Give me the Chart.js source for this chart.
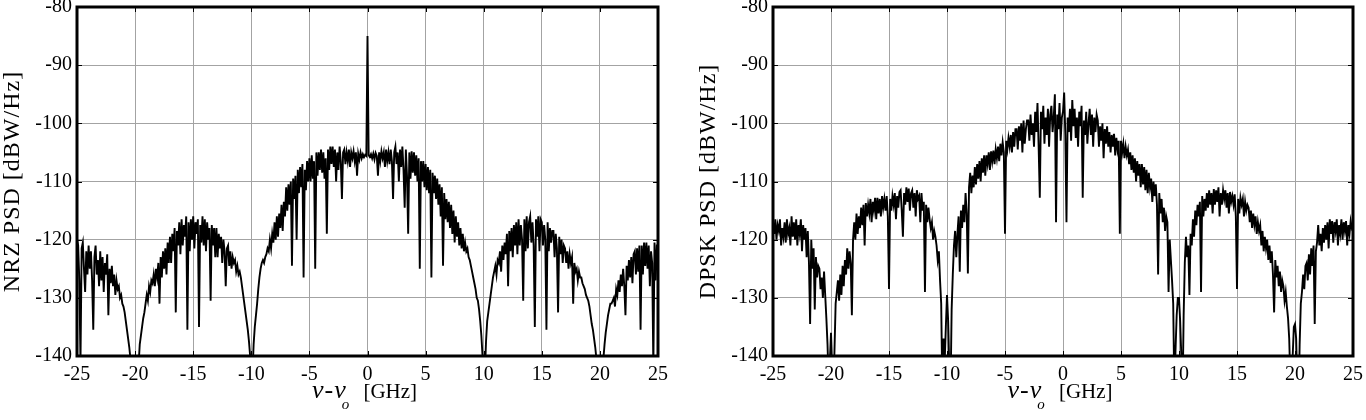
<!DOCTYPE html>
<html>
<head>
<meta charset="utf-8">
<script src="https://cdn.jsdelivr.net/npm/chart.js@4.4.1/dist/chart.umd.min.js"></script>
<style>
  html, body { margin: 0; padding: 0; background: #fff; }
  #wrap { position: relative; width: 1366px; height: 420px; }
  canvas { position: absolute; top: 0; }
</style>
</head>
<body>
<div id="wrap">
  <canvas id="nrz" width="683" height="420" style="left:0"></canvas>
  <canvas id="dpsk" width="683" height="420" style="left:683px"></canvas>
</div>
<script>
// sampling grid of both spectra (GHz offset from the carrier)
const freqStartGHz = -25;
const freqStepGHz = 0.1;

const xTicks = [-25, -20, -15, -10, -5, 0, 5, 10, 15, 20, 25];
const yTicks = [-140, -130, -120, -110, -100, -90, -80];

// PSD in dBW/Hz, one row per GHz (values below -140 fall outside the plot)
const nrzPsd = [
  -120, -121, -127, -141, -121.5, -120.5, -125, -129, -122, -126,
  -121, -125, -122, -127, -135.5, -123, -121, -126, -123.5, -128,
  -122, -127, -123, -129, -124, -126, -122.5, -133, -125, -127.5,
  -124.5, -128, -126, -129.5, -127, -128.5, -128, -130, -129.5, -131,
  -131.5, -132.5, -134, -135.5, -137, -138.5, -140.5, -143, -146, -150,
  -160, -152, -146, -141.5, -138, -136.5, -135, -133.5, -132.5, -131,
  -129.5, -130.5, -128, -129, -127, -127.5, -126, -128, -125, -126.5,
  -124, -131, -123, -126.5, -122, -125, -121.5, -126, -120.5, -124,
  -119.5, -124, -119, -122, -118, -132.5, -118.5, -121, -117, -122.5,
  -116.5, -121, -117.5, -119.5, -116, -135.5, -117, -122, -116.5, -120,
  -116, -121.5, -117, -119, -116.5, -135, -117.5, -120.5, -116, -121,
  -116.5, -122, -117, -120, -118, -130.5, -117.5, -121, -118, -123,
  -118, -123, -119, -121.5, -119.5, -124, -120, -122, -128, -121.5,
  -121, -124.5, -122, -125, -123, -124, -123.5, -125.5, -124.5, -126,
  -125.5, -126.5, -128, -129.5, -131, -132.5, -134, -135.5, -137.5, -140,
  -152, -143, -138, -135, -133, -131, -128.5, -126.5, -125, -124,
  -123.5, -124, -123, -122.5, -121.5, -122, -120, -121.5, -119, -120.5,
  -117, -120, -116, -119.5, -115.5, -118, -114, -118.5, -113.5, -116,
  -111, -115, -110.5, -114, -110, -124.5, -109.5, -113, -109, -120,
  -108, -112, -107.5, -111, -107, -126.5, -108, -111.5, -106.5, -110,
  -106, -110, -105.5, -109.5, -106.5, -125, -105, -109, -105, -108,
  -104.5, -108.5, -105, -109.5, -106, -119, -104.5, -108, -104, -107,
  -104, -107.5, -104.5, -110, -105, -108, -104, -106.5, -113, -105,
  -104.5, -107, -105, -106.5, -104.5, -107.5, -105, -106, -104.8, -106.5,
  -105, -109, -105.2, -106.2, -105, -106, -105.3, -105.8, -105.4, -105.6,
  -85, -105.5, -105.8, -105.3, -106, -105.2, -106.2, -105.1, -105.6, -109,
  -105, -106.5, -104.8, -106, -105, -107.5, -104.5, -106.5, -105, -107,
  -104.5, -106.5, -113, -105, -104, -107, -105, -110, -104.5, -107.5,
  -104, -108, -114.5, -104.5, -109, -119, -105, -109.5, -104.8, -108.5,
  -105, -109, -105.5, -110, -106, -125, -106.5, -110, -106.5, -111,
  -107, -111.5, -107.5, -112, -108, -126.5, -108.5, -112, -109, -113,
  -109.5, -114, -110.5, -116, -111, -124.5, -112, -116.5, -113, -117,
  -113.5, -118, -114, -119, -115, -120.5, -116, -119.5, -117, -121,
  -118, -121.5, -119, -122, -120.5, -122, -121.5, -123, -123.5, -124.5,
  -125.5, -126.5, -127.5, -128.5, -130, -130.5, -132, -134, -136.5, -140,
  -155, -143, -137.5, -134, -132.5, -131, -129.5, -128, -126.5, -125.5,
  -124.5, -126, -123.5, -124, -122, -125.5, -121, -123.5, -120.5, -122.5,
  -119, -128, -118.5, -122, -118, -123, -117.5, -121, -117, -122.5,
  -116.5, -121, -117.5, -120, -130.5, -116.5, -122, -116, -121.5, -117,
  -116, -120.5, -117, -121, -135, -116.5, -119.5, -116, -122, -116.5,
  -117, -121, -117.5, -120, -135.5, -117, -122, -118, -120.5, -118.5,
  -118.5, -123, -119, -121.5, -132.5, -119.5, -122.5, -120, -124, -121,
  -121.5, -124, -122, -125, -122.5, -124, -123, -131, -124, -125.5,
  -125, -127, -125.5, -126.5, -126.5, -127.5, -128, -128.5, -129.5, -130,
  -130.5, -131.5, -133, -134.5, -135.5, -137, -138.5, -140.5, -143, -147,
  -158, -150, -144, -140.5, -138, -136, -134.5, -133, -132, -131,
  -131, -130.5, -130, -131.5, -128.5, -129.5, -127, -129, -126, -128,
  -125, -128, -133, -124.5, -127, -123.5, -126.5, -123, -127.5, -122.5,
  -122, -126, -121.5, -125.5, -121, -135.5, -121, -126, -120.5, -124.5,
  -120.5, -125, -121, -128, -122, -124, -142, -120.5, -127, -121,
  -121
];

const dpskPsd = [
  -117, -119, -116.5, -120, -117.5, -118.5, -116.5, -121, -118, -119.5,
  -117, -120.5, -116.5, -119, -118, -121, -116, -119.5, -117, -120,
  -116.5, -121, -117.5, -119, -116.5, -122, -117.5, -120, -118, -123,
  -118.5, -124, -134.5, -120, -125, -121.5, -132, -123, -126.5, -124.5,
  -125, -128.5, -126.5, -130, -125.5, -129.5, -133.5, -138, -145, -141,
  -136, -142, -148, -139, -131, -129, -127, -130.5, -126, -129.5,
  -124.5, -128, -123.5, -126, -121.5, -125, -122, -124, -133, -120,
  -117, -120, -115.5, -119, -116, -118, -114.5, -117.5, -114, -121,
  -113.7, -116, -114, -115.5, -113, -117, -113.5, -115, -112.8, -116.5,
  -112.8, -115.5, -113, -116, -112.5, -114.5, -113, -115, -112.5, -116,
  -128.5, -113, -115, -112.5, -114, -112, -116.5, -112.5, -114.5, -111.8,
  -111.5, -115, -119.5, -112, -114, -111, -113.5, -111.2, -115, -112,
  -111.5, -114.5, -112, -116, -111.5, -113, -112.5, -117, -112, -115,
  -113.5, -129, -114, -117, -114.5, -116.5, -118, -117, -120, -118.5,
  -119.5, -121, -123.5, -122, -127, -131, -146, -137, -141, -135,
  -129.5, -134, -142, -147, -132, -126, -121, -118.5, -123, -119,
  -116, -125.5, -115, -118, -114, -117, -112, -115.5, -125.8, -111,
  -108.5, -112, -109, -111, -107.5, -110.5, -107, -109.5, -106.5, -110,
  -106, -108.5, -105.5, -109, -105.5, -107, -105, -108, -104.8, -106.5,
  -104.7, -107, -104.5, -106, -104, -106.5, -103.5, -105.5, -103.3, -105,
  -119, -103, -104.5, -102.5, -104, -102, -105, -101.5, -104, -101,
  -101, -104.5, -100.5, -103, -100, -105, -99.5, -103.5, -101, -99.5,
  -99.5, -103, -98.5, -102, -100, -104, -98, -101.5, -96.5, -104,
  -112.8, -98, -101, -97, -103.5, -99, -102, -97.5, -104, -98.5,
  -97, -101.5, -99, -95, -117, -98.5, -101, -96.5, -103, -99,
  -98, -94.7, -102, -117, -99, -101.5, -97.5, -103, -96, -100.5,
  -97.5, -102.5, -99, -104, -98, -100.5, -97, -112.8, -99.5, -102,
  -98, -103.5, -100, -97.5, -102, -98.5, -104, -99, -101.5, -98.5,
  -99.5, -104, -100.5, -103, -100, -106, -101, -103.5, -100.5, -104,
  -101.5, -105, -102, -104, -101.8, -105.5, -102.5, -104.5, -103, -119,
  -103, -105, -103.5, -106, -104, -105.5, -104.5, -107, -105, -108,
  -105.5, -108.5, -106, -110, -106.5, -109, -107, -111, -107, -110.5,
  -107.5, -111.5, -108, -112, -108.5, -111, -109.5, -113.5, -110, -112.5,
  -110.5, -114, -126, -112, -115.5, -113, -117, -114.5, -118.5, -116,
  -117, -129, -120, -123.5, -127, -131, -146, -139, -133, -130,
  -130, -134, -140, -148, -133, -124, -119.5, -123, -121, -129.5,
  -119, -121, -116.5, -119.5, -115, -117.5, -114, -116, -113.5, -129,
  -112.5, -116, -113, -115, -112, -114.5, -111.5, -114, -112, -115.5,
  -111.3, -114, -111.5, -113.5, -111, -116, -112, -114, -111.5, -113,
  -111.5, -114.5, -112, -115.5, -111.8, -113.5, -112.5, -114, -112.2, -116,
  -128.5, -113, -115.5, -112.8, -114, -113, -116, -113.5, -115, -114,
  -114.5, -117, -115, -118, -115.5, -117.5, -116, -119, -117, -118.5,
  -117.5, -121, -118.5, -122, -119.5, -121.5, -120, -123.5, -121, -124,
  -122, -126, -132.5, -123.5, -126.5, -124.5, -128, -125.5, -129, -127,
  -128, -130.5, -129, -131.5, -133.5, -137, -144, -149, -140, -135,
  -134.5, -137, -145, -150, -138, -131, -129, -126, -128.5, -124.5,
  -124, -127, -122.5, -126, -121.5, -124.5, -121, -134.5, -122, -120.5,
  -117.5, -121, -119, -122, -118, -120.5, -117.5, -120, -117, -121.5,
  -116.5, -119, -116.8, -120.5, -117, -118.5, -116.5, -121, -117.5, -119,
  -116.5, -120, -117, -118.5, -116.8, -121, -117.5, -119, -116.8, -118,
  -117.5
];

const freqGHz = nrzPsd.map((_, i) => +(freqStartGHz + i * freqStepGHz).toFixed(1));

const SERIF = '"Liberation Serif", "Times New Roman", serif';

// thick frame, inward ticks and the axis titles
const framePlugin = {
  id: 'frame',
  afterDraw(chart, args, opts) {
    const { ctx, chartArea: a, scales: { x, y } } = chart;
    ctx.save();
    ctx.strokeStyle = '#000';
    ctx.lineWidth = 1;
    ctx.beginPath();
    xTicks.forEach(v => {
      const px = Math.round(x.getPixelForValue(v)) + 0.5;
      ctx.moveTo(px, a.bottom); ctx.lineTo(px, a.bottom - 5);
      ctx.moveTo(px, a.top); ctx.lineTo(px, a.top + 5);
    });
    yTicks.forEach(v => {
      const py = Math.round(y.getPixelForValue(v)) + 0.5;
      ctx.moveTo(a.left, py); ctx.lineTo(a.left + 5, py);
      ctx.moveTo(a.right, py); ctx.lineTo(a.right - 5, py);
    });
    ctx.stroke();
    ctx.lineWidth = 3;
    ctx.strokeRect(a.left, a.top, a.width, a.height);
    ctx.restore();

    // y title
    ctx.save();
    ctx.fillStyle = '#000';
    ctx.translate(opts.yTitleX, (a.top + a.bottom) / 2);
    ctx.rotate(-Math.PI / 2);
    ctx.font = `24px ${SERIF}`;
    ctx.letterSpacing = '1px';
    ctx.textAlign = 'center';
    ctx.textBaseline = 'middle';
    ctx.fillText(opts.yTitle, 0, 0);
    ctx.restore();

    // x title: italic nu - nu with subscript o, then the unit
    ctx.save();
    ctx.fillStyle = '#000';
    ctx.textBaseline = 'alphabetic';
    ctx.textAlign = 'left';
    const base = 398;
    ctx.font = `italic 26px ${SERIF}`;
    ctx.letterSpacing = '1px';
    const w1 = ctx.measureText('ν-ν').width;
    ctx.letterSpacing = '0px';
    ctx.font = `italic 15px ${SERIF}`;
    const w2 = ctx.measureText('o').width + 4;
    ctx.font = `21px ${SERIF}`;
    const w3 = ctx.measureText(' [GHz]').width;
    const x0 = (a.left + a.right) / 2 - (w1 + w2 + w3) / 2 - 3;
    ctx.font = `italic 26px ${SERIF}`;
    ctx.letterSpacing = '1px';
    ctx.fillText('ν-ν', x0, base);
    ctx.letterSpacing = '0px';
    ctx.font = `italic 15px ${SERIF}`;
    ctx.fillText('o', x0 + w1 - 5, base + 11);
    ctx.font = `21px ${SERIF}`;
    ctx.fillText(' [GHz]', x0 + w1 + w2, base);
    ctx.restore();
  }
};

function makePsdChart(canvasId, values, yTitle, yAxisWidth, padRight, yTitleX) {
  return new Chart(document.getElementById(canvasId), {
    type: 'line',
    data: {
      labels: freqGHz,
      datasets: [{
        data: values,
        borderColor: '#000',
        borderWidth: 1.9,
        pointRadius: 0,
        tension: 0,
        fill: false
      }]
    },
    options: {
      responsive: false,
      animation: false,
      devicePixelRatio: 1,
      layout: { padding: { top: 7, right: padRight, left: 0, bottom: 0 } },
      plugins: {
        legend: { display: false },
        tooltip: { enabled: false },
        frame: { yTitle, yTitleX }
      },
      scales: {
        x: {
          type: 'linear',
          min: -25,
          max: 25,
          afterBuildTicks: s => { s.ticks = xTicks.map(v => ({ value: v })); },
          afterFit: s => { s.height = 64; s.paddingLeft = 0; s.paddingRight = 0; },
          grid: { color: '#a3a3a3', lineWidth: 1, drawTicks: false },
          border: { display: false },
          ticks: {
            font: { family: SERIF, size: 20 },
            color: '#000',
            padding: 7,
            maxRotation: 0,
            autoSkip: false
          }
        },
        y: {
          min: -140,
          max: -80,
          afterBuildTicks: s => { s.ticks = yTicks.map(v => ({ value: v })); },
          afterFit: s => { s.width = yAxisWidth; s.paddingTop = 0; s.paddingBottom = 0; },
          grid: { color: '#a3a3a3', lineWidth: 1, drawTicks: false },
          border: { display: false },
          ticks: {
            font: { family: SERIF, size: 20 },
            color: '#000',
            padding: 5,
            autoSkip: false
          }
        }
      }
    },
    plugins: [framePlugin]
  });
}

makePsdChart('nrz', nrzPsd, 'NRZ PSD [dBW/Hz]', 77, 25, 13);
makePsdChart('dpsk', dpskPsd, 'DPSK PSD [dBW/Hz]', 90, 13, 26);
</script>
</body>
</html>
